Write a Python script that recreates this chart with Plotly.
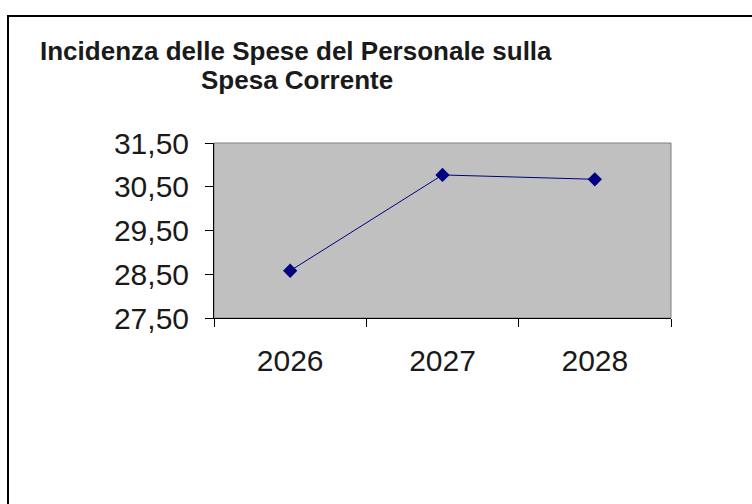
import plotly.graph_objects as go

years = ["2026", "2027", "2028"]
values = [28.58, 30.77, 30.67]
title_line1 = "Incidenza delle Spese del Personale sulla"
title_line2 = "Spesa Corrente"

W, H = 752, 504
L, R, T, B = 214, 81, 143, 186
pw, ph = W - L - R, H - T - B

def px(x):
    return (x - L) / pw

def py(y):
    return (H - B - y) / ph

fig = go.Figure()
fig.add_trace(go.Scatter(
    x=years, y=values, mode="lines+markers",
    line=dict(color="#000080", width=1),
    marker=dict(symbol="diamond", size=11, color="#000080"),
    showlegend=False, cliponaxis=False,
))

font = "Liberation Sans, Arial, sans-serif"
fig.update_layout(
    width=W, height=H,
    margin=dict(l=L, r=R, t=T, b=B),
    paper_bgcolor="white", plot_bgcolor="#C0C0C0",
    separators=",.",
    xaxis=dict(
        type="category", range=[-0.5, 2.5], tickson="boundaries",
        ticks="outside", ticklen=8, tickcolor="black", tickwidth=1,
        showline=True, linecolor="black", linewidth=1,
        showgrid=False, zeroline=False,
        tickfont=dict(family=font, size=30, color="#1a1a1a"),
        ticklabelstandoff=16,
    ),
    yaxis=dict(
        range=[27.5, 31.5], dtick=1, tick0=27.5, tickformat=".2f",
        ticks="outside", ticklen=8, tickcolor="black", tickwidth=1,
        showline=True, linecolor="black", linewidth=1,
        showgrid=False, zeroline=False,
        tickfont=dict(family=font, size=30, color="#1a1a1a"),
        ticklabelstandoff=10,
    ),
    shapes=[
        dict(type="rect", xref="paper", yref="paper", x0=0, x1=1, y0=0, y1=1,
             line=dict(color="#808080", width=1), layer="below"),
        dict(type="line", xref="paper", yref="paper",
             x0=px(7), x1=px(760), y0=py(16), y1=py(16),
             line=dict(color="black", width=2)),
        dict(type="line", xref="paper", yref="paper",
             x0=px(8), x1=px(8), y0=py(15), y1=py(510),
             line=dict(color="black", width=2)),
    ],
    annotations=[
        dict(text="<b>" + title_line1 + "</b>", xref="paper", yref="paper",
             x=px(296), y=py(50.5), xanchor="center", yanchor="middle",
             showarrow=False, font=dict(family=font, size=26, color="#1a1a1a")),
        dict(text="<b>" + title_line2 + "</b>", xref="paper", yref="paper",
             x=px(297), y=py(80.5), xanchor="center", yanchor="middle",
             showarrow=False, font=dict(family=font, size=26, color="#1a1a1a")),
    ],
)

fig.write_html("out.html", config={"displayModeBar": False},
               post_script="document.body.style.margin='0';")
